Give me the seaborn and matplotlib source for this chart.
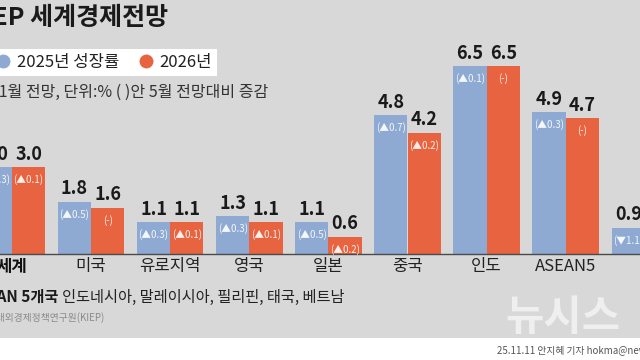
import matplotlib
matplotlib.use("Agg")
import matplotlib.pyplot as plt
from matplotlib.lines import Line2D
from matplotlib.patches import Rectangle
import seaborn as sns
import pandas as pd

# ---- data -------------------------------------------------------------
regions = ["세계", "미국", "유로지역", "영국", "일본", "중국", "인도", "ASEAN5", "러시아"]
growth_2025 = [3.0, 1.8, 1.1, 1.3, 1.1, 4.8, 6.5, 4.9, 0.9]
growth_2026 = [3.0, 1.6, 1.1, 1.1, 0.6, 4.2, 6.5, 4.7, 1.0]
change_2025 = ["▲0.3", "▲0.5", "▲0.3", "▲0.3", "▲0.5", "▲0.7", "▲0.1", "▲0.3", "▼1.1"]
change_2026 = ["▲0.1", "-", "▲0.1", "▲0.1", "▲0.2", "▲0.2", "-", "-", "▼0.2"]
series = ["2025년 성장률", "2026년"]
colors = ["#8eaad2", "#e8633f"]

title = "KIEP 세계경제전망"
subtitle = "11월 전망, 단위:% ( )안 5월 전망대비 증감"
note_bold = "ASEAN 5개국"
note_text = "인도네시아, 말레이시아, 필리핀, 태국, 베트남"
source = "자료:대외경제정책연구원(KIEP)"
footer = "25.11.11 안지혜 기자 hokma@newsis.com"
watermark = "뉴시스"

# ---- style ------------------------------------------------------------
sns.set_theme(style="white")
plt.rcParams["font.family"] = ["Noto Sans CJK KR", "DejaVu Sans"]
NUM = ["Noto Sans CJK KR", "DejaVu Sans"]

W, H = 640, 360
fig = plt.figure(figsize=(6.4, 3.6), dpi=100)
fig.patch.set_facecolor("white")


def fx(x):
    return x / W


def fy(y):
    return 1 - y / H


fig.add_artist(Rectangle((0, fy(338)), 1, 1 - fy(338), transform=fig.transFigure,
                         facecolor="#d8d8d8", edgecolor="none", zorder=0))

base_px = 254
ax = fig.add_axes([0, fy(base_px), 1, base_px / H])
ax.set_facecolor("none")

df = pd.DataFrame({
    "region": regions * 2,
    "year": [series[0]] * len(regions) + [series[1]] * len(regions),
    "value": growth_2025 + growth_2026,
})
sns.barplot(data=df, x="region", y="value", hue="year", order=regions,
            hue_order=series, palette=colors, width=0.84, saturation=1,
            gap=0, legend=False, linewidth=0, edgecolor="none", ax=ax)

unit = (base_px - 66) / 6.5
ax.set_ylim(0, base_px / unit)
step = 79.1
ax.set_xlim(-12 / step, (W - 12) / step)

for s in ["left", "right", "top"]:
    ax.spines[s].set_visible(False)
ax.spines["bottom"].set_color("#4a4a4a")
ax.spines["bottom"].set_linewidth(1.0)
ax.set_yticks([])
ax.set_xlabel("")
ax.set_ylabel("")
ax.tick_params(axis="x", length=0, pad=3, labelsize=12, labelcolor="#222222")
for lbl in ax.get_xticklabels():
    if lbl.get_text() == "세계":
        lbl.set_fontweight("bold")
        lbl.set_color("#111111")

for cont, vals, chs in zip(ax.containers, [growth_2025, growth_2026],
                           [change_2025, change_2026]):
    ax.bar_label(cont, labels=[f"{v:.1f}" for v in vals], padding=2.5,
                 fontsize=13, fontweight="bold", color="#1a1a1a", family=NUM,
                 annotation_clip=False)
    ax.bar_label(cont, labels=[f"({c})" for c in chs], padding=-13,
                 fontsize=7, color="white", alpha=0.9, family=NUM,
                 annotation_clip=False)

handles = [Line2D([], [], marker="o", linestyle="none", markersize=10,
                  markerfacecolor=c, markeredgecolor="none") for c in colors]
leg = fig.legend(handles, series, loc="center left",
                 bbox_to_anchor=(fx(-10), fy(62)), ncol=2, frameon=True,
                 fancybox=False, facecolor="white", edgecolor="white",
                 framealpha=1, fontsize=12, handlelength=1.0,
                 handletextpad=0.3, columnspacing=1.1, borderpad=0.3,
                 borderaxespad=0)
leg.get_frame().set_linewidth(0)
for t in leg.get_texts():
    t.set_color("#222222")

fig.text(fx(168), fy(18), title, ha="right", va="center", fontsize=18,
         fontweight="bold", color="#1a1a1a")
fig.text(fx(268), fy(92), subtitle, ha="right", va="center", fontsize=11.5,
         color="#333333")
fig.text(fx(58), fy(297), note_bold, ha="right", va="center", fontsize=11,
         fontweight="bold", color="#1a1a1a")
fig.text(fx(62), fy(297), note_text, ha="left", va="center", fontsize=11,
         color="#222222")
fig.text(fx(105), fy(318), source, ha="right", va="center", fontsize=7,
         color="#8a8a8a")
fig.text(fx(505), fy(318), watermark, ha="left", va="center", fontsize=30,
         fontweight="bold", color="white", alpha=0.6)
fig.text(fx(497), fy(350), footer, ha="left", va="center", fontsize=7,
         color="#555555")

fig.savefig("out.png", dpi=100)
